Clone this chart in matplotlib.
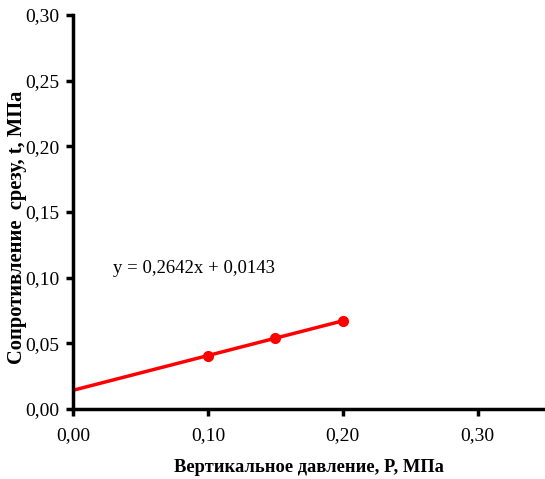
import numpy as np
import matplotlib
matplotlib.use('Agg')
import matplotlib.pyplot as plt
from matplotlib.ticker import FuncFormatter, MultipleLocator

# data
pressure = [0.10, 0.15, 0.20]
shear = [0.0407, 0.0539, 0.0671]
slope = 0.2642
intercept = 0.0143
trend_x = [0.0, 0.20]

plt.rcParams['font.family'] = ['Liberation Serif', 'DejaVu Serif']

fig = plt.figure(figsize=(5.45, 4.79), dpi=100)
ax = fig.add_axes([0.134, 0.146, 0.866, 0.823])

tx = np.array(trend_x)
ax.plot(tx, slope * tx + intercept, color='#ff0000', linewidth=2.5, solid_capstyle='butt', zorder=2)
ax.plot(pressure, shear, linestyle='none', marker='o', markersize=7, color='#ff0000', zorder=3)

ax.text(0.0295, 0.107, 'y = 0,2642x + 0,0143', fontsize=13.5, va='center', ha='left')

ax.set_xlim(0, 0.35)
ax.set_ylim(0, 0.30)
ax.xaxis.set_major_locator(MultipleLocator(0.10))
ax.yaxis.set_major_locator(MultipleLocator(0.05))
fmt = FuncFormatter(lambda v, p: f'{v:.2f}'.replace('.', ','))
ax.xaxis.set_major_formatter(fmt)
ax.yaxis.set_major_formatter(fmt)

for s in ['top', 'right']:
    ax.spines[s].set_visible(False)
for s in ['left', 'bottom']:
    ax.spines[s].set_linewidth(2.5)
ax.tick_params(direction='out', length=5, width=2.5, labelsize=14)
ax.tick_params(axis='y', pad=5)
ax.tick_params(axis='x', pad=8)

ax.set_xlabel('Вертикальное давление, P, МПа', fontsize=13.3, fontweight='bold')
ax.xaxis.set_label_coords(0.5, -0.127)
ax.set_ylabel('Сопротивление  срезу, t, МПа', fontsize=14.8, fontweight='bold')
ax.yaxis.set_label_coords(-0.098, 0.46)

fig.savefig('out.png', dpi=100)
